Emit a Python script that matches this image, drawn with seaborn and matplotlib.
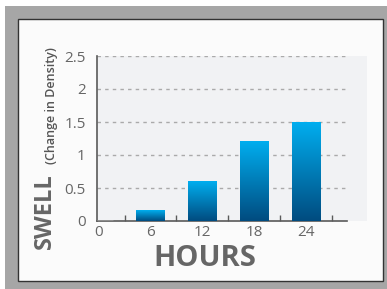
import numpy as np
import pandas as pd
import matplotlib
matplotlib.use("Agg")
import matplotlib.pyplot as plt
import seaborn as sns
from matplotlib.patches import Rectangle
from matplotlib.colors import LinearSegmentedColormap

hours = ['0', '6', '12', '18', '24']
swell = [0.0, 0.16, 0.60, 1.21, 1.50]
yticks = [0, 0.5, 1, 1.5, 2, 2.5]
ytick_labels = ['0', '0.5', '1', '1.5', '2', '2.5']

sns.set_theme(style='white')
plt.rcParams['font.family'] = ['Open Sans', 'DejaVu Sans']

df = pd.DataFrame({'Hours': hours, 'Swell': swell})

W, H = 387, 289
fig = plt.figure(figsize=(W / 100, H / 100), dpi=100)
fig.patch.set_facecolor('#a6a6a6')
# white margin top/left + framed inner card
fig.add_artist(Rectangle((0, 1 - 6 / H), 1, 6 / H, transform=fig.transFigure,
                         facecolor='white', edgecolor='none', zorder=-2))
fig.add_artist(Rectangle((0, 0), 5 / W, 1, transform=fig.transFigure,
                         facecolor='white', edgecolor='none', zorder=-2))
fig.add_artist(Rectangle((18 / W, 1 - 281 / H), 365 / W, 262 / H, transform=fig.transFigure,
                         facecolor='#fbfbfb', edgecolor='#333333', linewidth=1, zorder=-2))

ax = fig.add_axes([97 / W, 1 - 221 / H, 270 / W, 165 / H])
ax.set_facecolor('#f1f2f4')
sns.barplot(data=df, x='Hours', y='Swell', order=hours, width=0.54, ax=ax, zorder=3)

# gradient fill on each bar
cmap = LinearSegmentedColormap.from_list('bluegrad', ['#004b7f', '#00aeef'])
grad = np.linspace(0, 1, 256).reshape(-1, 1)
for p in ax.patches:
    x0, y0 = p.get_x(), p.get_y()
    w, h = p.get_width(), p.get_height()
    if h <= 0:
        continue
    im = ax.imshow(grad, cmap=cmap, aspect='auto', origin='lower',
                   extent=[x0, x0 + w, y0, y0 + h], zorder=3)
    im.set_clip_path(p)
    p.set_facecolor('none')
    p.set_edgecolor('none')

ax.set_xlim(-0.03, 5.17)
ax.set_ylim(0, 2.5)
ax.hlines(yticks[1:], -0.03, 4.79, colors='#aaaaaa', linestyles=(0, (2.5, 3)), linewidth=1, zorder=1)

for s in ['top', 'right']:
    ax.spines[s].set_visible(False)
for s in ['left', 'bottom']:
    ax.spines[s].set_color('#5a5a5a')
    ax.spines[s].set_linewidth(1.2)
ax.spines['bottom'].set_bounds(-0.03, 4.79)

ax.set_yticks(yticks)
ax.set_yticklabels(ytick_labels)
ax.set_xticks(range(len(hours)))
ax.set_xticklabels(hours)
ax.set_xticks([0.5, 1.5, 2.5, 3.5, 4.5], minor=True)
ax.tick_params(axis='x', which='major', length=0, pad=3, labelsize=11, labelcolor='#666666')
ax.tick_params(axis='x', which='minor', direction='in', length=4, width=1, color='#5a5a5a', bottom=True)
ax.tick_params(axis='y', length=0, pad=8, labelsize=11, labelcolor='#666666')
ax.set_xlabel('')
ax.set_ylabel('')

fig.text(205 / W, 1 - 258 / H, 'HOURS', ha='center', va='center', fontsize=21,
         fontweight='bold', color='#666666')
fig.text(45 / W, 1 - 211 / H, 'SWELL', ha='center', va='center', rotation=90,
         fontsize=17, fontweight='bold', color='#666666')
fig.text(52 / W, 1 - 106 / H, '(Change in Density)', ha='center', va='center', rotation=90,
         fontsize=9, fontweight='semibold', color='#555555')

fig.savefig('out.png', dpi=100, facecolor=fig.get_facecolor())
